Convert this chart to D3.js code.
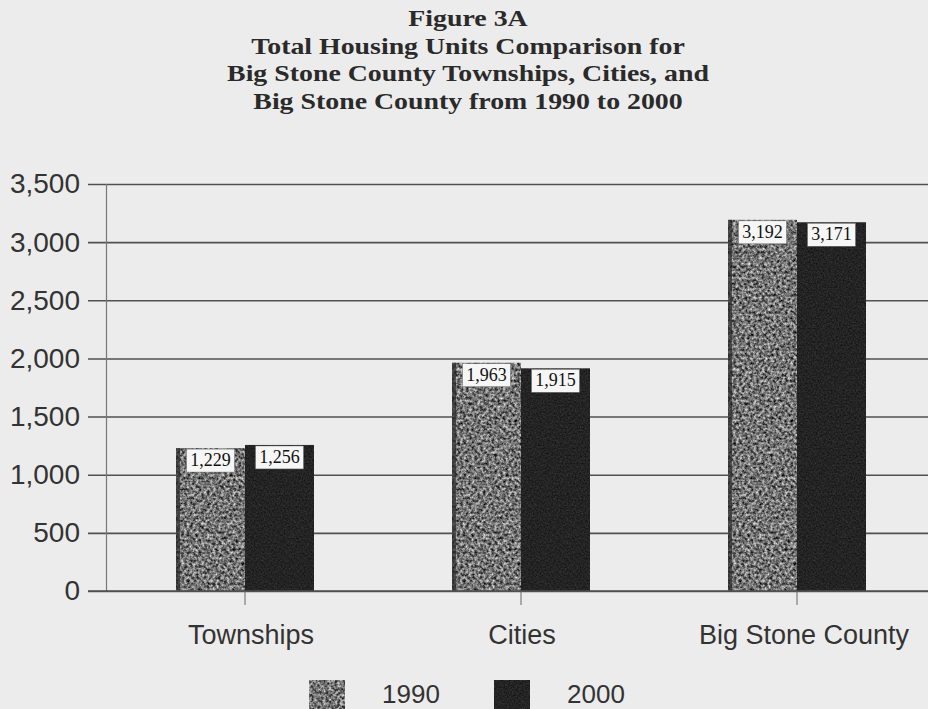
<!DOCTYPE html>
<html>
  <head>
    <meta charset="utf-8">
    <title>Figure 3A</title>
    <style>
      body { margin: 0; background: #ececec; }
      svg { display: block; }
    </style>
  </head>
  <body>
    <svg width="928" height="709"></svg>
    <script src="https://cdn.jsdelivr.net/npm/d3@7"></script>
    <script>
      // data
      var titleLines = ["Figure 3A",
        "Total Housing Units Comparison for",
        "Big Stone County Townships, Cities, and",
        "Big Stone County from 1990 to 2000"];
      var categories = ["Townships", "Cities", "Big Stone County"];
      var years = ["1990", "2000"];
      var units1990 = [1229, 1963, 3192];
      var units2000 = [1256, 1915, 3171];
      var yTicks = [0, 500, 1000, 1500, 2000, 2500, 3000, 3500];

      var svg = d3.select("svg");
      var width = +svg.attr("width");
      var height = +svg.attr("height");

      svg.append("rect").attr("width", width).attr("height", height).attr("fill", "#ececec");

      // textures for the scanned-looking bars
      var defs = svg.append("defs");
      function grain(id, k, c, freq) {
        var f = defs.append("filter").attr("id", id)
          .attr("color-interpolation-filters", "sRGB")
          .attr("x", 0).attr("y", 0).attr("width", 1).attr("height", 1);
        f.append("feTurbulence").attr("type", "fractalNoise")
          .attr("baseFrequency", freq).attr("numOctaves", 3).attr("seed", 7).attr("result", "n");
        f.append("feColorMatrix").attr("in", "n").attr("type", "matrix")
          .attr("values", [k,0,0,0,c, k,0,0,0,c, k,0,0,0,c, 0,0,0,0,1].join(" "))
          .attr("result", "g");
        f.append("feComposite").attr("in", "g").attr("in2", "SourceGraphic").attr("operator", "in");
      }
      grain("grain1990", 1.25, -0.17, 0.35);
      grain("grain2000", 0.2, 0.04, 0.6);

      var x = d3.scaleBand().domain(categories).range([107, 935])
        .paddingInner(0.5).paddingOuter(0.25);
      var xs = d3.scaleBand().domain(years).range([0, x.bandwidth()]);
      var y = d3.scaleLinear().domain([0, 3500]).range([591, 184]);

      // title (condensed bold serif, stretched a little to the scan's width)
      svg.append("g")
        .attr("transform", "translate(468,0) scale(1.16,1)")
        .selectAll("text")
        .data(titleLines)
        .enter().append("text")
        .attr("x", 0)
        .attr("y", function(d, i) { return 26 + i * 27.6; })
        .attr("text-anchor", "middle")
        .attr("font-family", "'Liberation Serif', 'Times New Roman', serif")
        .attr("font-weight", "bold")
        .attr("font-size", 24)
        .attr("fill", "#2a2a2a")
        .text(function(d) { return d; });

      // gridlines + y ticks
      var yAxis = d3.axisLeft(y).tickValues(yTicks)
        .tickSize(-(width - 88 + 10)).tickPadding(8)
        .tickFormat(d3.format(","));
      var ga = svg.append("g").attr("transform", "translate(88,0)").call(yAxis);
      ga.select(".domain").remove();
      ga.selectAll(".tick line").attr("stroke", "#505050").attr("stroke-width", 1.6);
      ga.selectAll(".tick text")
        .attr("font-family", "'Liberation Sans', Arial, sans-serif")
        .attr("font-size", 28).attr("fill", "#333");

      // vertical axis line
      svg.append("line")
        .attr("x1", 106.5).attr("x2", 106.5)
        .attr("y1", y(3500)).attr("y2", y(0))
        .attr("stroke", "#777").attr("stroke-width", 1.2);

      // bars
      var groups = svg.append("g").selectAll("g")
        .data(categories)
        .enter().append("g")
        .attr("transform", function(d) { return "translate(" + x(d) + ",0)"; });

      function rows(d, i) {
        return [{year: "1990", value: units1990[i]}, {year: "2000", value: units2000[i]}];
      }

      groups.selectAll("rect")
        .data(rows)
        .enter().append("rect")
        .attr("x", function(d) { return xs(d.year); })
        .attr("y", function(d) { return y(d.value); })
        .attr("width", xs.bandwidth())
        .attr("height", function(d) { return y(0) - y(d.value); })
        .attr("fill", "#fff")
        .attr("filter", function(d) { return "url(#grain" + d.year + ")"; });

      // dark left edge of the 1990 bars
      groups.append("rect")
        .attr("x", xs("1990"))
        .attr("y", function(d, i) { return y(units1990[i]); })
        .attr("width", 4)
        .attr("height", function(d, i) { return y(0) - y(units1990[i]); })
        .attr("fill", "#2a2a2a").attr("opacity", 0.7);

      // value labels
      var lab = groups.selectAll(".lab")
        .data(rows)
        .enter().append("g").attr("class", "lab")
        .attr("transform", function(d) {
          return "translate(" + (xs(d.year) + xs.bandwidth() / 2) + "," + (y(d.value) + 1) + ")";
        });
      lab.append("rect")
        .attr("x", -24).attr("y", 0).attr("width", 48).attr("height", 23)
        .attr("fill", "#f6f6f6").attr("stroke", "#666").attr("stroke-width", 0.5);
      lab.append("text")
        .attr("y", 17).attr("text-anchor", "middle")
        .attr("font-family", "'Liberation Serif', 'Times New Roman', serif")
        .attr("font-size", 18).attr("fill", "#111")
        .text(function(d) { return d3.format(",")(d.value); });

      // zero line and category ticks
      svg.append("line")
        .attr("x1", 88).attr("x2", width)
        .attr("y1", y(0)).attr("y2", y(0))
        .attr("stroke", "#505050").attr("stroke-width", 1.6);
      var xAxis = d3.axisBottom(x).tickSize(14).tickPadding(20);
      var gx = svg.append("g").attr("transform", "translate(0," + y(0) + ")").call(xAxis);
      gx.select(".domain").remove();
      gx.selectAll(".tick line").attr("stroke", "#666");
      gx.selectAll(".tick text")
        .attr("font-family", "'Liberation Sans', Arial, sans-serif")
        .attr("font-size", 27).attr("fill", "#333")
        .attr("dx", function(d, i) { return [6, 1, 7][i]; });

      // legend
      var legendX = [309, 494];
      var leg = svg.append("g").selectAll("g")
        .data(years)
        .enter().append("g")
        .attr("transform", function(d, i) { return "translate(" + legendX[i] + ",680)"; });
      leg.append("rect")
        .attr("width", 36).attr("height", 32)
        .attr("fill", "#fff")
        .attr("filter", function(d) { return "url(#grain" + d + ")"; });
      leg.append("text")
        .attr("x", 73).attr("y", 23)
        .attr("font-family", "'Liberation Sans', Arial, sans-serif")
        .attr("font-size", 26).attr("fill", "#333")
        .text(function(d) { return d; });
    </script>
  </body>
</html>
